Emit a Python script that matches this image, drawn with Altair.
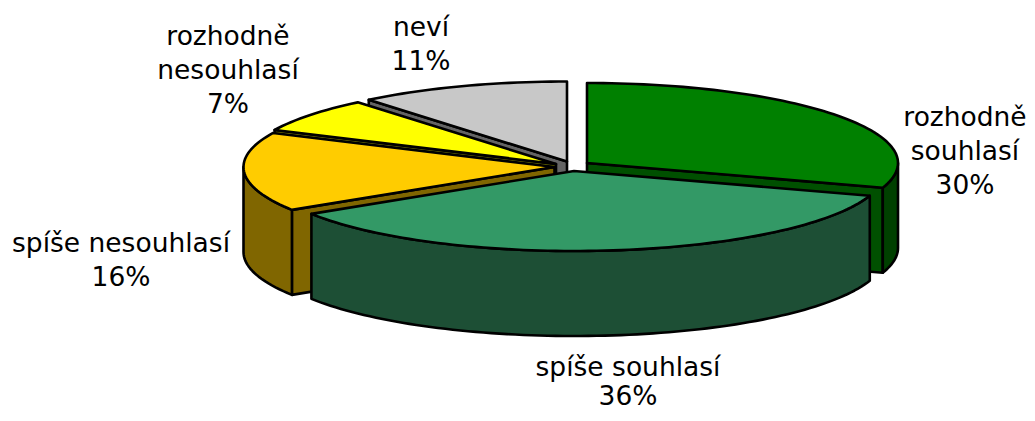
import math
import altair as alt
import pandas as pd

# Data
categories = ["rozhodně souhlasí", "spíše souhlasí", "spíše nesouhlasí", "rozhodně nesouhlasí", "neví"]
shares = [30, 36, 16, 7, 11]

# Styling / layout of the exploded, tilted pie
top_colors = ["#008000", "#339966", "#FFCC00", "#FFFF00", "#C8C8C8"]
rim_colors = ["#004000", "#1D4F35", "#806600", "#808000", "#646464"]
face_colors = ["#005000", "#1D4F35", "#806600", "#808000", "#646464"]
apex = [(587, 163), (574, 171), (554.5, 167), (556, 164), (567, 161.5)]
RX, RY, DEPTH = 311, 80, 85
draw_order = [4, 3, 2, 0, 1]
label_lines = [
    (["rozhodně", "souhlasí", "30%"], 965, 118, 34),
    (["spíše souhlasí", "36%"], 628, 368, 29),
    (["spíše nesouhlasí", "16%"], 121, 244, 34),
    (["rozhodně", "nesouhlasí", "7%"], 228, 37, 34),
    (["neví", "11%"], 421, 28, 34),
]

X_DOM = [8, 1027]
Y_DOM = [8, 413]
x_enc = alt.X("x:Q", scale=alt.Scale(domain=X_DOM), axis=None)
y_enc = alt.Y("y:Q", scale=alt.Scale(domain=Y_DOM, reverse=True), axis=None)


def pt(c, ang, drop=0):
    r = math.radians(ang)
    return (c[0] + RX * math.sin(r), c[1] - RY * math.cos(r) + drop)


def arc(c, a0, a1, drop=0):
    n = max(2, int(abs(a1 - a0) / 1.5) + 1)
    return [pt(c, a0 + (a1 - a0) * i / (n - 1), drop) for i in range(n)]


def poly(points, fill):
    df = pd.DataFrame({"x": [p[0] for p in points], "y": [p[1] for p in points], "o": range(len(points))})
    return (
        alt.Chart(df)
        .mark_line(interpolate="linear-closed", fill=fill, stroke="#000000", strokeWidth=2.6,
                   strokeJoin="round", clip=False)
        .encode(x=x_enc, y=y_enc, order="o:Q")
    )


# Angles come straight from the shares
edges = [0]
for s in shares:
    edges.append(edges[-1] + s * 3.6)

layers = []
for i in draw_order:
    a0, a1 = edges[i], edges[i + 1]
    c = apex[i]
    # radial faces turned towards the viewer
    for ang, visible in ((a0, 180 < a0 < 360), (a1, 0 < a1 < 180)):
        if visible:
            p = pt(c, ang)
            face = [c, p, (p[0], p[1] + DEPTH), (c[0], c[1] + DEPTH)]
            layers.append(poly(face, face_colors[i]))
    # outer rim
    lo, hi = max(a0, 90), min(a1, 270)
    if lo < hi:
        rim = arc(c, lo, hi) + arc(c, hi, lo, DEPTH)
        layers.append(poly(rim, rim_colors[i]))
    # top
    layers.append(poly([c] + arc(c, a0, a1), top_colors[i]))

rows = []
for lines, lx, ly, gap in label_lines:
    for k, t in enumerate(lines):
        rows.append({"x": lx, "y": ly + k * gap, "t": t})
labels = (
    alt.Chart(pd.DataFrame(rows))
    .mark_text(font="DejaVu Sans", fontSize=26.5, color="#000000", align="center", baseline="middle", clip=False)
    .encode(x=x_enc, y=y_enc, text="t:N")
)

chart = (
    alt.layer(*layers, labels)
    .properties(width=X_DOM[1] - X_DOM[0], height=Y_DOM[1] - Y_DOM[0], padding=0,
                autosize=alt.AutoSizeParams(type="none"))
    .configure_view(stroke=None)
)
chart.save("out.html", embed_options={"renderer": "svg", "actions": False})
